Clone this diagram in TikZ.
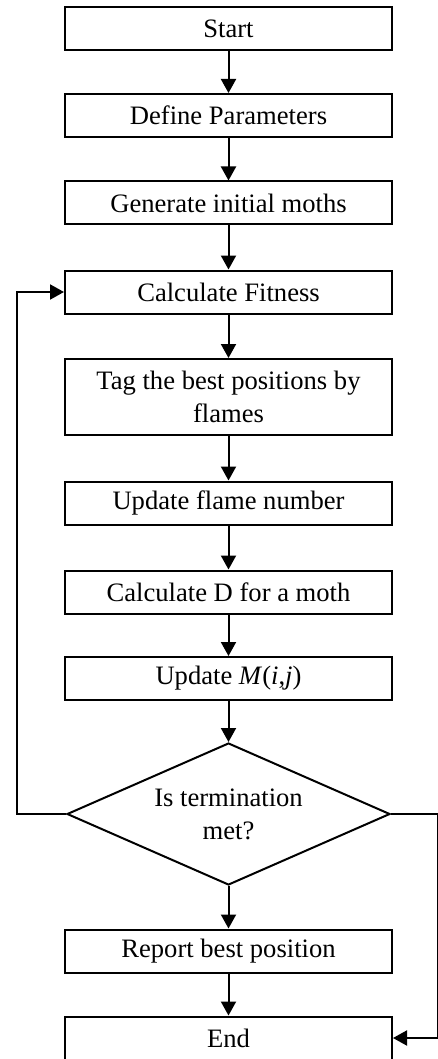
\documentclass[tikz,border=0pt]{standalone}
\usepackage{fontspec}
\setmainfont{Liberation Serif}
\usetikzlibrary{arrows.meta,shapes.geometric}
\begin{document}
\begin{tikzpicture}[x=1pt,y=-1pt,
  every node/.style={font=\fontsize{26.6}{33}\selectfont},
  stepbox/.style={draw,line width=2pt,rectangle,minimum width=327pt,minimum height=43pt,inner sep=0pt,align=center},
  decision/.style={draw,line width=2pt,diamond,aspect=2.27,minimum width=323pt,minimum height=142pt,inner sep=0pt,align=center},
  flow/.style={line width=2pt,-{Triangle[length=14pt,width=15pt]}}]
  \useasboundingbox (0,0) rectangle (438,1059);
  % process chain
  \node[stepbox] (start) at (228.5,28.5) {Start};
  \node[stepbox] (define) at (228.5,115.5) {Define Parameters};
  \node[stepbox] (gen) at (228.5,203) {Generate initial moths};
  \node[stepbox] (fit) at (228.5,292) {Calculate Fitness};
  \node[stepbox,minimum height=76pt] (tag) at (228.5,397) {Tag the best positions by\\flames};
  \node[stepbox] (flame) at (228.5,503) {Update flame number};
  \node[stepbox] (dist) at (228.5,592) {Calculate D for a moth};
  \node[stepbox] (upd) at (228.5,678.5) {Update \textit{M}(\textit{i},\textit{j})};
  \node[decision] (term) at (228.5,814) {Is termination\\met?};
  \node[stepbox] (report) at (228.5,951) {Report best position};
  \node[stepbox] (stop) at (228.5,1038) {End};
  % connectors
  \draw[flow] (start) -- (define);
  \draw[flow] (define) -- (gen);
  \draw[flow] (gen) -- (fit);
  \draw[flow] (fit) -- (tag);
  \draw[flow] (tag) -- (flame);
  \draw[flow] (flame) -- (dist);
  \draw[flow] (dist) -- (upd);
  \draw[flow] (upd) -- (term);
  \draw[flow] (term) -- (report);
  \draw[flow] (report) -- (stop);
  % loop back and exit
  \coordinate (lt) at (17,292);
  \coordinate (rt) at (437.5,814);
  \draw[flow] (term.west) -| (lt) -- (fit.west);
  \draw[flow] (term.east) -- (rt) |- (stop.east);
\end{tikzpicture}
\end{document}
